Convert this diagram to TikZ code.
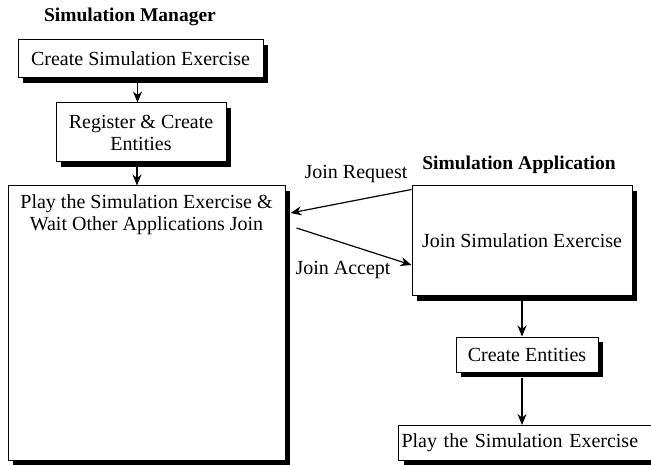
\documentclass[tikz,border=0pt]{standalone}
\usepackage{fontspec}
\setmainfont{Liberation Serif}
\usetikzlibrary{shadows,arrows.meta,calc}
\begin{document}
\begin{tikzpicture}[x=1pt,y=-1pt,
  txt/.style={font=\fontsize{20}{22}\selectfont, inner sep=0pt},
  ttl/.style={font=\fontsize{19.5}{22}\selectfont\bfseries, inner sep=0pt},
  box/.style={txt, draw=black, line width=1pt, fill=white,
    drop shadow={shadow xshift=5pt, shadow yshift=-5pt, fill=black, opacity=1}},
  arr/.style={-{Stealth[length=11pt,width=9pt]}, line width=1.2pt}]
\useasboundingbox (0,0) rectangle (651,465);
\node[ttl] (t1) at (130,17) {Simulation Manager};
\node[box, minimum width=245, minimum height=38] (create) at (140.5,59) {Create Simulation Exercise};
\node[box, minimum width=170, minimum height=59, align=center] (reg) at (141,132.5) {Register \& Create\\Entities};
\node[box, minimum width=277, minimum height=274,
  label={[txt, align=center, anchor=north, yshift=-9pt]north:Play the Simulation Exercise \&\\Wait Other Applications Join}] (play) at (146.5,323) {};
\node[ttl] (t2) at (519,165) {Simulation Application};
\node[box, minimum width=220, minimum height=110] (join) at (522,241) {Join Simulation Exercise};
\node[box, minimum width=142, minimum height=35] (ce) at (527,354.5) {Create Entities};
\node[box, anchor=north west, text width=256pt, inner xsep=3pt, minimum height=35, align=left] (pb) at (398,425) {Play the Simulation Exercise};
\node[txt] (jr) at (356,174) {Join Request};
\node[txt] (ja) at (343,270) {Join Accept};
\draw[arr] ([xshift=-3pt,yshift=-5pt]create.south) -- ([xshift=-3pt]create.south |- reg.north);
\draw[arr] ([xshift=-4pt,yshift=-5pt]reg.south) -- ([xshift=-4pt]reg.south |- play.north);
\draw[arr] ([yshift=-4pt]join.north west) -- ($(play.north east |- 0,213)+(5,0)$);
\draw[arr] ($(play.north east |- 0,228)+(11,0)$) -- (join.west |- 0,265);
\draw[arr] ([yshift=-5pt]join.south) -- (join.south |- ce.north);
\draw[arr] ([yshift=-5pt]ce.south -| join.south) -- (join.south |- pb.north);
\end{tikzpicture}
\end{document}
